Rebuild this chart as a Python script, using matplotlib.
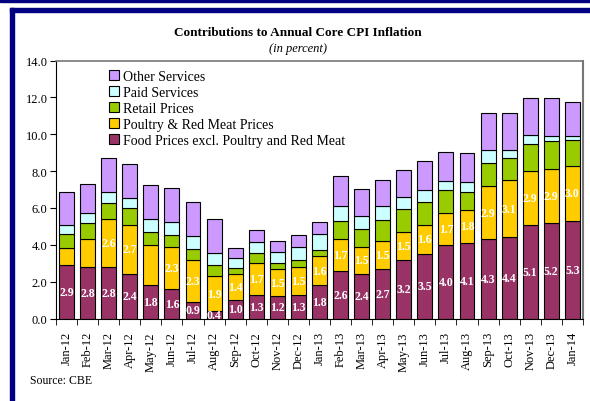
import numpy as np
import matplotlib
matplotlib.use("Agg")
import matplotlib.pyplot as plt
from matplotlib.patches import Rectangle

plt.rcParams["font.family"] = ["Liberation Serif", "DejaVu Serif"]

months = ["Jan-12", "Feb-12", "Mar-12", "Apr-12", "May-12", "Jun-12", "Jul-12",
          "Aug-12", "Sep-12", "Oct-12", "Nov-12", "Dec-12", "Jan-13", "Feb-13",
          "Mar-13", "Apr-13", "May-13", "Jun-13", "Jul-13", "Aug-13", "Sep-13",
          "Oct-13", "Nov-13", "Dec-13", "Jan-14"]

food = [2.9, 2.8, 2.8, 2.4, 1.8, 1.6, 0.9, 0.4, 1.0, 1.3, 1.2, 1.3, 1.8, 2.6,
        2.4, 2.7, 3.2, 3.5, 4.0, 4.1, 4.3, 4.4, 5.1, 5.2, 5.3]
poultry = [0.9, 1.5, 2.6, 2.7, 2.2, 2.3, 2.3, 1.9, 1.4, 1.7, 1.5, 1.5, 1.6, 1.7,
           1.5, 1.5, 1.5, 1.6, 1.7, 1.8, 2.9, 3.1, 2.9, 2.9, 3.0]
retail = [0.78, 0.89, 0.88, 0.89, 0.71, 0.61, 0.56, 0.58, 0.32, 0.58, 0.31, 0.37,
          0.33, 1.01, 0.94, 1.14, 1.25, 1.23, 1.25, 0.99, 1.22, 1.21, 1.49, 1.51, 1.40]
paid = [0.52, 0.52, 0.58, 0.54, 0.67, 0.71, 0.72, 0.67, 0.55, 0.58, 0.58, 0.72,
        0.85, 0.82, 0.74, 0.76, 0.63, 0.64, 0.53, 0.51, 0.72, 0.45, 0.47, 0.32, 0.21]
other = [1.74, 1.58, 1.85, 1.86, 1.86, 1.86, 1.85, 1.84, 0.56, 0.63, 0.60, 0.62,
         0.68, 1.63, 1.45, 1.41, 1.47, 1.55, 1.57, 1.59, 2.01, 1.99, 2.03, 2.01, 1.83]

# poultry labels missing for a few months in the original
poultry_labels = [None, None, "2.6", "2.7", None, "2.3", "2.3", "1.9", "1.4",
                  "1.7", "1.5", "1.5", "1.6", "1.7", "1.5", "1.5", "1.5", "1.6",
                  "1.7", "1.8", "2.9", "3.1", "2.9", "2.9", "3.0"]

series = [
    ("Food Prices excl. Poultry and Red Meat", food, "#993366"),
    ("Poultry & Red Meat Prices", poultry, "#FFCC00"),
    ("Retail Prices", retail, "#99CC00"),
    ("Paid Services", paid, "#CCFFFF"),
    ("Other Services", other, "#CC99FF"),
]

fig = plt.figure(figsize=(5.9, 4.02), dpi=100)
ax = fig.add_axes([0.0949, 0.2052, 0.8931, 0.6418])

x = np.arange(len(months))
bottom = np.zeros(len(months))
for name, vals, col in series:
    ax.bar(x, vals, 0.71, bottom=bottom, color=col, edgecolor="black",
           linewidth=0.8, label=name)
    bottom += np.array(vals)

# value labels
for i in range(len(months)):
    ax.text(x[i], food[i] / 2, f"{food[i]:.1f}", ha="center", va="center",
            color="white", fontsize=8.5, fontweight="bold")
    if poultry_labels[i]:
        ax.text(x[i], food[i] + poultry[i] / 2, poultry_labels[i], ha="center",
                va="center", color="white", fontsize=8.5, fontweight="bold")

ax.set_xlim(-0.5, len(months) - 0.5)
ax.set_ylim(0, 14)
ax.set_yticks(np.arange(0, 14.1, 2))
ax.set_yticklabels([f"{v:.1f}" for v in np.arange(0, 14.1, 2)], fontsize=9)
ax.set_xticks(x)
ax.set_xticklabels(months, rotation=90, fontsize=9)
ax.tick_params(axis="x", length=0, pad=9)
ax.set_xticks(np.arange(-0.5, len(months), 1), minor=True)
ax.tick_params(axis="x", which="minor", length=4, direction="out")
ax.tick_params(axis="y", length=4, direction="out", pad=2)
ax.spines["top"].set_color("#777777")
ax.spines["right"].set_color("#777777")
ax.spines["right"].set_linewidth(1.5)
ax.spines["top"].set_linewidth(1.2)

handles, labels = ax.get_legend_handles_labels()
ax.legend(handles[::-1], labels[::-1], loc="upper left", bbox_to_anchor=(0.083, 1.0),
          frameon=False, fontsize=10, handlelength=0.75, handleheight=0.75,
          handletextpad=0.3, labelspacing=0.22, borderaxespad=0.25)

fig.text(0.505, 0.918, "Contributions to Annual Core CPI Inflation", ha="center",
         va="center", fontsize=9.5, fontweight="bold")
fig.text(0.505, 0.877, "(in percent)", ha="center", va="center", fontsize=9,
         style="italic")
fig.text(0.05, 0.052, "Source: CBE", ha="left", va="center", fontsize=8.5)

# navy frame
navy = "#000080"
fig.patches.append(Rectangle((0, 1 - 3 / 402), 1, 3 / 402, transform=fig.transFigure,
                             color=navy, zorder=0))
fig.patches.append(Rectangle((10 / 590, 1 - 13 / 402), 580 / 590, 4 / 402,
                             transform=fig.transFigure, color=navy, zorder=0))
fig.patches.append(Rectangle((10 / 590, 0), 4 / 590, 1 - 9 / 402,
                             transform=fig.transFigure, color=navy, zorder=0))

fig.savefig("out.png", dpi=100)
